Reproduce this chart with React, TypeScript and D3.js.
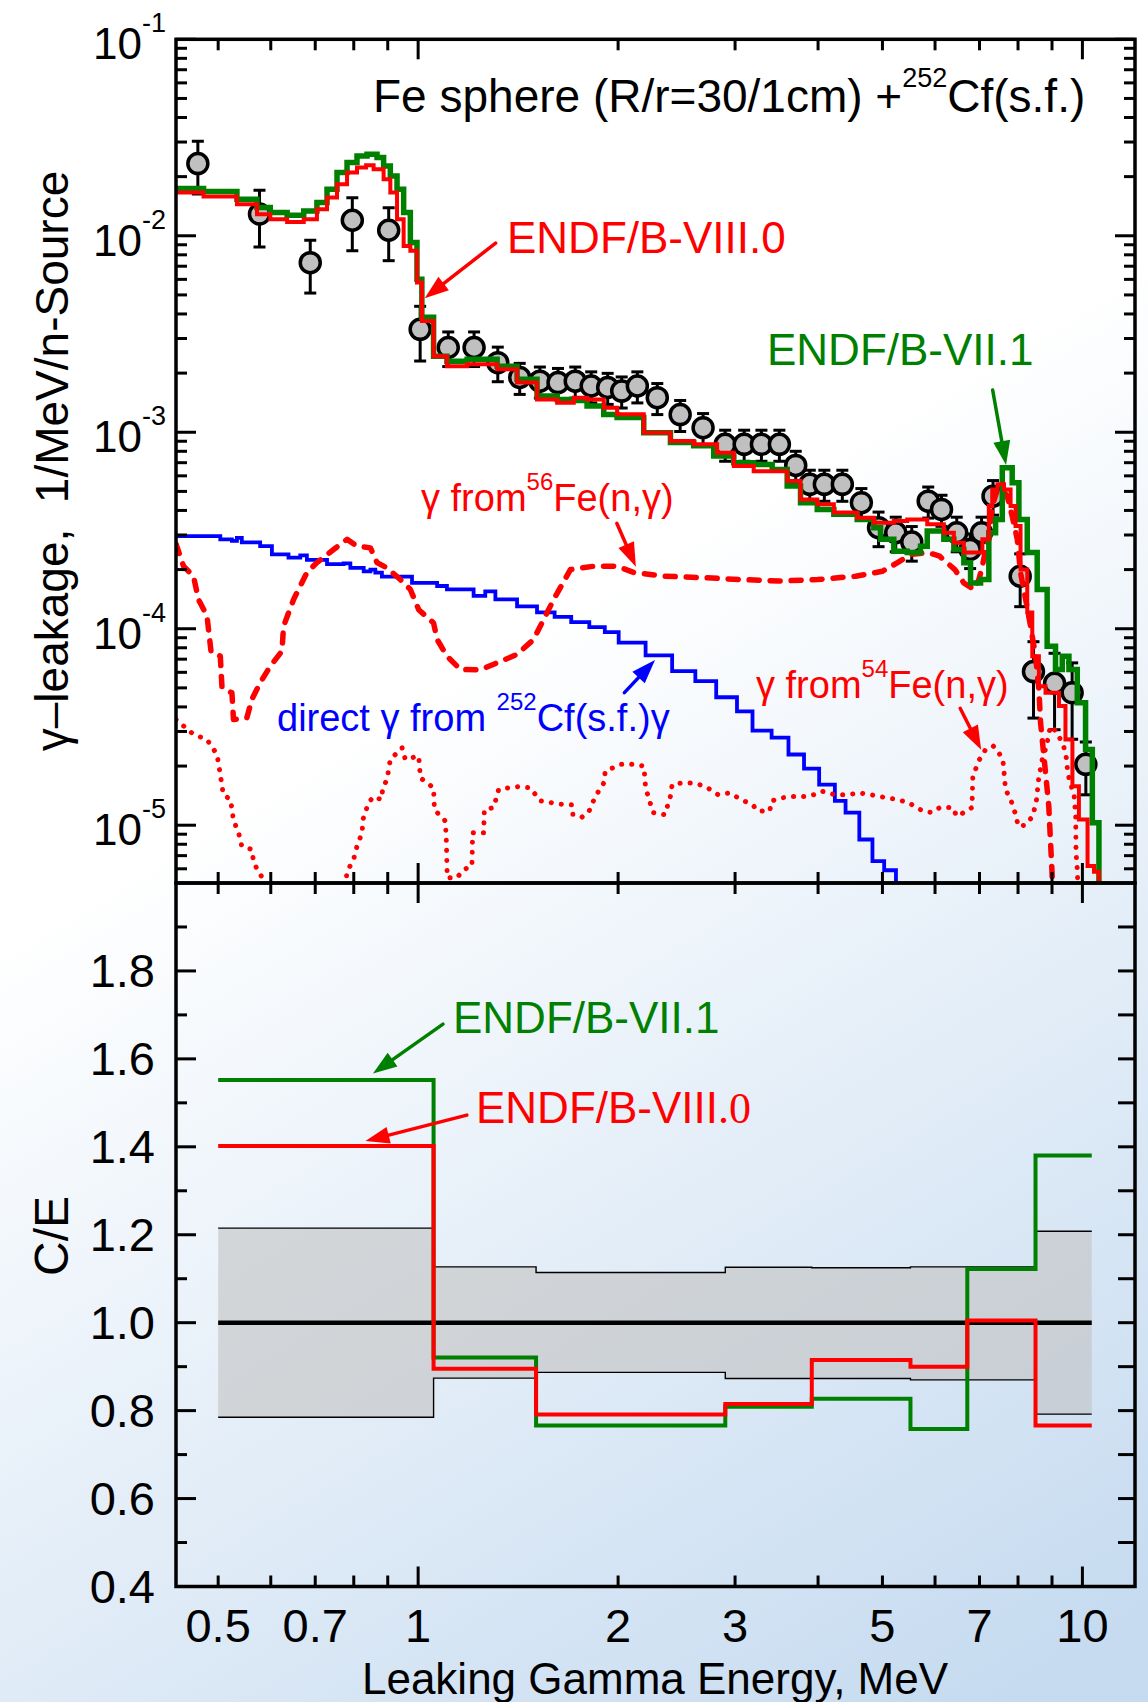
import React from "react";
import * as d3 from "d3";

const W = 1148;
const H = 1702;
const FONT = "'Liberation Sans', Arial, Helvetica, sans-serif";
const SERIF = "'Liberation Serif', 'Times New Roman', serif";
const RED = "#ff0000";
const GREEN = "#008000";
const BLUE = "#0000ff";

// ---------------- data ----------------
// experiment: [energy MeV, leakage, relative error]
const expData: [number, number, number][] = [
  [0.466, 0.0233, 0.3], [0.577, 0.0129, 0.32], [0.688, 0.0073, 0.3], [0.796, 0.012, 0.3],
  [0.903, 0.01067, 0.3], [1.007, 0.00334, 0.31], [1.11, 0.0027, 0.2], [1.214, 0.0027, 0.2],
  [1.318, 0.00226, 0.2], [1.422, 0.0019, 0.18], [1.525, 0.00182, 0.18], [1.624, 0.00179, 0.18],
  [1.724, 0.00182, 0.18], [1.822, 0.00172, 0.18], [1.929, 0.00169, 0.18], [2.025, 0.00162, 0.18],
  [2.138, 0.00172, 0.18], [2.291, 0.0015, 0.18], [2.48, 0.00123, 0.18], [2.685, 0.001055, 0.18],
  [2.899, 0.000868, 0.18], [3.096, 0.000868, 0.18], [3.287, 0.000868, 0.18], [3.498, 0.000868, 0.18],
  [3.702, 0.000678, 0.18], [3.887, 0.000543, 0.18], [4.088, 0.000543, 0.18], [4.351, 0.000543, 0.18],
  [4.648, 0.000438, 0.18], [4.933, 0.000327, 0.2], [5.236, 0.000308, 0.2], [5.535, 0.000276, 0.2],
  [5.86, 0.000446, 0.18], [6.136, 0.000405, 0.18], [6.469, 0.000308, 0.2], [6.776, 0.000253, 0.2],
  [7.05, 0.000308, 0.2], [7.336, 0.000473, 0.2], [8.06, 0.000185, 0.3], [8.44, 0.0000605, 0.42],
  [9.08, 0.0000528, 0.42], [9.65, 0.0000472, 0.42], [10.12, 0.0000204, 0.3],
];

// ENDF/B-VII.1 histogram: [bin start energy, leakage]
const endf71: [number, number][] = [
  [0.432, 0.0174], [0.4753, 0.0168], [0.5336, 0.01534], [0.572, 0.01392], [0.599, 0.01312],
  [0.635, 0.01272], [0.6726, 0.01337], [0.7041, 0.01476], [0.7292, 0.01725], [0.7549, 0.021],
  [0.7816, 0.0236], [0.809, 0.02548], [0.8376, 0.026], [0.8672, 0.025], [0.8872, 0.02266],
  [0.9081, 0.02016], [0.9295, 0.01725], [0.951, 0.01312], [0.9734, 0.00923], [0.996, 0.006],
  [1.013, 0.00385], [1.055, 0.00244], [1.105, 0.0023], [1.185, 0.00235], [1.315, 0.00217],
  [1.409, 0.00186], [1.51, 0.00153], [1.619, 0.00147], [1.715, 0.00145], [1.796, 0.00136],
  [1.903, 0.00123], [1.993, 0.00119], [2.186, 0.000995], [2.398, 0.000886], [2.6, 0.000854],
  [2.786, 0.000756], [2.987, 0.0007], [3.2, 0.000686], [3.412, 0.000647], [3.594, 0.000532],
  [3.764, 0.000438], [3.989, 0.000405], [4.225, 0.000382], [4.581, 0.00036], [4.853, 0.000327],
  [4.967, 0.000285], [5.201, 0.000248], [5.449, 0.000244], [5.705, 0.000263], [5.84, 0.000314],
  [6.186, 0.000285], [6.405, 0.000253], [6.63, 0.000217], [6.786, 0.000171], [7.026, 0.000178],
  [7.23, 0.000308], [7.401, 0.00036], [7.575, 0.00066], [7.84, 0.000554], [8.024, 0.00036],
  [8.26, 0.000244], [8.55, 0.0001585], [8.85, 0.0000815], [9.11, 0.000062], [9.326, 0.0000725],
  [9.544, 0.000062], [9.824, 0.000042], [10.11, 0.0000243], [10.35, 0.0000103], [10.59, 1e-7],
];

// ENDF/B-VIII.0 histogram
const endf80: [number, number][] = [
  [0.432, 0.0166], [0.4753, 0.01583], [0.5336, 0.01446], [0.572, 0.01287], [0.599, 0.01213],
  [0.635, 0.01176], [0.6726, 0.01213], [0.7041, 0.01364], [0.7292, 0.01565], [0.7549, 0.0183],
  [0.7816, 0.021], [0.809, 0.02225], [0.835, 0.02286], [0.857, 0.0218], [0.8872, 0.0194],
  [0.9081, 0.0166], [0.9295, 0.01213], [0.951, 0.00887], [0.9734, 0.0084], [0.996, 0.00578],
  [1.013, 0.00368], [1.055, 0.00244], [1.105, 0.00217], [1.185, 0.00222], [1.315, 0.00209],
  [1.409, 0.00179], [1.51, 0.00147], [1.619, 0.001415], [1.715, 0.0015], [1.796, 0.00147],
  [1.903, 0.001334], [1.993, 0.001234], [2.186, 0.000995], [2.398, 0.000902], [2.6, 0.000868],
  [2.819, 0.000787], [2.987, 0.000673], [3.2, 0.000634], [3.594, 0.000564], [3.764, 0.000455],
  [3.989, 0.00043], [4.225, 0.00039], [4.581, 0.000367], [4.853, 0.000346], [5.201, 0.000353],
  [5.449, 0.00036], [5.84, 0.00034], [6.186, 0.000308], [6.405, 0.000274], [6.63, 0.000244],
  [7.07, 0.000285], [7.23, 0.000421], [7.316, 0.000512], [7.45, 0.000543], [7.62, 0.000512],
  [7.796, 0.000421], [7.932, 0.000333], [8.07, 0.0002], [8.26, 0.000121], [8.405, 0.0000725],
  [8.6, 0.000051], [8.8, 0.0000472], [9.22, 0.0000404], [9.43, 0.0000273], [9.66, 0.0000158],
  [9.88, 0.0000107], [10.18, 0.0000062], [10.41, 0.0000058], [10.59, 1e-7],
];

// direct gamma from 252Cf(s.f.) histogram
const cfDirect: [number, number][] = [
  [0.432, 2.96e-4], [0.5037, 2.85e-4], [0.5244, 2.8e-4], [0.5336, 2.9e-4], [0.5427, 2.75e-4],
  [0.5783, 2.63e-4], [0.6024, 2.39e-4], [0.638, 2.3e-4], [0.6646, 2.36e-4], [0.68, 2.24e-4],
  [0.7292, 2.13e-4], [0.7724, 2.15e-4], [0.7906, 2.04e-4], [0.828, 1.96e-4], [0.8475, 2.0e-4],
  [0.8621, 1.93e-4], [0.882, 1.84e-4], [0.979, 1.71e-4], [1.068, 1.65e-4], [1.105, 1.585e-4],
  [1.212, 1.47e-4], [1.262, 1.55e-4], [1.307, 1.41e-4], [1.409, 1.3e-4], [1.51, 1.21e-4],
  [1.605, 1.15e-4], [1.7, 1.08e-4], [1.81, 1.02e-4], [1.91, 9.6e-5], [2.004, 8.5e-5],
  [2.2, 7.31e-5], [2.412, 6.08e-5], [2.614, 5.41e-5], [2.81, 4.48e-5], [3.02, 3.8e-5],
  [3.187, 3.03e-5], [3.405, 2.79e-5], [3.61, 2.29e-5], [3.81, 1.94e-5], [4.015, 1.61e-5],
  [4.24, 1.33e-5], [4.4, 1.16e-5], [4.615, 8.46e-6], [4.83, 6.56e-6], [5.03, 5.9e-6], [5.24, 1e-7],
];

// gamma from 56Fe(n,g)
const fe56Capture: [number, number][] = [
  [0.432, 2.7e-4], [0.4434, 2.08e-4], [0.459, 1.85e-4], [0.467, 1.41e-4], [0.481, 1.16e-4],
  [0.488, 7.55e-5], [0.5037, 7.25e-5], [0.5067, 5.0e-5], [0.5244, 4.72e-5], [0.5273, 3.45e-5],
  [0.5523, 3.52e-5], [0.5619, 4.37e-5], [0.5783, 5.31e-5], [0.599, 6.45e-5], [0.6237, 7.69e-5],
  [0.6272, 1.03e-4], [0.6494, 1.41e-4], [0.68, 1.93e-4], [0.7041, 2.17e-4], [0.746, 2.53e-4],
  [0.7816, 2.85e-4], [0.809, 2.63e-4], [0.8475, 2.58e-4], [0.8672, 2.17e-4], [0.8977, 2.04e-4],
  [0.94, 1.78e-4], [0.9734, 1.585e-4], [1.002, 1.25e-4], [1.055, 1.07e-4], [1.068, 8.82e-5],
  [1.105, 7.25e-5], [1.158, 6.2e-5], [1.241, 6.18e-5], [1.315, 6.71e-5], [1.409, 7.4e-5],
  [1.492, 8.82e-5], [1.527, 1.03e-4], [1.6, 1.41e-4], [1.695, 2.0e-4], [1.838, 2.08e-4],
  [1.993, 2.08e-4], [2.116, 1.93e-4], [2.352, 1.85e-4], [2.685, 1.82e-4], [3.064, 1.78e-4],
  [3.498, 1.75e-4], [3.993, 1.78e-4], [4.556, 1.85e-4], [4.998, 1.96e-4], [5.268, 2.17e-4],
  [5.52, 2.39e-4], [5.86, 2.44e-4], [6.095, 2.34e-4], [6.427, 2.0e-4], [6.63, 1.71e-4],
  [6.865, 1.585e-4], [6.985, 1.78e-4], [7.07, 2.08e-4], [7.15, 2.53e-4], [7.23, 2.85e-4],
  [7.316, 4.21e-4], [7.45, 5.12e-4], [7.575, 5.12e-4], [7.707, 4.73e-4], [7.84, 3.74e-4],
  [7.98, 2.85e-4], [8.07, 1.93e-4], [8.214, 1.41e-4], [8.356, 1.03e-4], [8.502, 7.25e-5],
  [8.6, 4.9e-5], [8.65, 3.32e-5], [8.75, 2.25e-5], [8.8, 1.85e-5], [8.9, 1.25e-5],
  [8.95, 8.46e-6], [9.0, 5.8e-6], [9.05, 3e-6],
];

// gamma from 54Fe(n,g)
const fe54Capture: [number, number][] = [
  [0.432, 3.45e-5], [0.459, 2.9e-5], [0.481, 2.73e-5], [0.498, 2.29e-5], [0.5037, 1.81e-5],
  [0.509, 1.43e-5], [0.522, 1.35e-5], [0.527, 1.07e-5], [0.5374, 8.97e-6], [0.5427, 7.82e-6],
  [0.5619, 7.52e-6], [0.5646, 6.69e-6], [0.572, 5.95e-6], [0.585, 5.3e-6], [0.6, 4.2e-6],
  [0.7, 3.0e-6], [0.775, 4.5e-6], [0.7816, 5.8e-6], [0.7995, 6.69e-6], [0.809, 7.82e-6],
  [0.8233, 9.15e-6], [0.826, 1.07e-5], [0.842, 1.3e-5], [0.857, 1.4e-5], [0.88, 1.35e-5],
  [0.885, 1.55e-5], [0.8977, 1.71e-5], [0.9081, 2.16e-5], [0.9295, 2.34e-5], [0.9457, 2.48e-5],
  [0.9566, 2.16e-5], [1.002, 2.25e-5], [1.008, 1.74e-5], [1.055, 1.55e-5], [1.058, 1.2e-5],
  [1.099, 1.05e-5], [1.103, 8.14e-6], [1.106, 5.4e-6], [1.144, 5.4e-6], [1.171, 5.95e-6],
  [1.205, 6.18e-6], [1.208, 9.15e-6], [1.255, 9.15e-6], [1.258, 1.2e-5], [1.299, 1.23e-5],
  [1.322, 1.52e-5], [1.368, 1.55e-5], [1.417, 1.57e-5], [1.475, 1.55e-5], [1.527, 1.33e-5],
  [1.638, 1.28e-5], [1.705, 1.27e-5], [1.71, 1.13e-5], [1.765, 1.1e-5], [1.807, 1.17e-5],
  [1.848, 1.4e-5], [1.903, 1.64e-5], [1.913, 1.88e-5], [2.015, 2.04e-5], [2.1, 2.04e-5],
  [2.187, 2.0e-5], [2.2, 1.55e-5], [2.258, 1.16e-5], [2.352, 1.13e-5], [2.397, 1.4e-5],
  [2.412, 1.61e-5], [2.496, 1.64e-5], [2.597, 1.64e-5], [2.702, 1.58e-5], [2.83, 1.43e-5],
  [2.944, 1.46e-5], [3.064, 1.35e-5], [3.187, 1.27e-5], [3.25, 1.18e-5], [3.383, 1.18e-5],
  [3.405, 1.33e-5], [3.54, 1.38e-5], [3.66, 1.4e-5], [3.81, 1.4e-5], [3.94, 1.43e-5],
  [4.05, 1.49e-5], [4.24, 1.43e-5], [4.43, 1.43e-5], [4.615, 1.46e-5], [4.8, 1.43e-5],
  [5.06, 1.38e-5], [5.27, 1.35e-5], [5.48, 1.3e-5], [5.75, 1.18e-5], [5.94, 1.16e-5],
  [6.1, 1.23e-5], [6.38, 1.23e-5], [6.47, 1.11e-5], [6.63, 1.16e-5], [6.82, 1.23e-5],
  [6.84, 1.78e-5], [7.0, 2.16e-5], [7.15, 2.43e-5], [7.34, 2.53e-5], [7.43, 2.43e-5],
  [7.59, 2.16e-5], [7.63, 1.78e-5], [7.66, 1.52e-5], [7.8, 1.35e-5], [7.95, 1.11e-5],
  [8.0, 9.88e-6], [8.19, 1.0e-5], [8.42, 1.11e-5], [8.53, 1.35e-5], [8.59, 1.71e-5],
  [8.7, 2.16e-5], [8.83, 2.53e-5], [8.95, 3.19e-5], [9.14, 3.0e-5], [9.37, 2.53e-5],
  [9.47, 2.16e-5], [9.5, 1.85e-5], [9.72, 1.4e-5], [9.77, 1.11e-5], [9.78, 7.3e-6],
  [9.83, 5.8e-6], [9.86, 3e-6],
];

// C/E panel
const ceEdges = [0.5, 1.055, 1.505, 2.9, 3.914, 5.51, 6.71, 8.5, 10.33];
const ceVII1 = [1.552, 0.921, 0.766, 0.809, 0.827, 0.758, 1.122, 1.38];
const ceVIII0 = [1.402, 0.895, 0.791, 0.815, 0.915, 0.9, 1.005, 0.766];
const expUncUpper = [1.215, 1.127, 1.114, 1.126, 1.125, 1.127, 1.127, 1.208];
const expUncLower = [0.785, 0.874, 0.887, 0.873, 0.873, 0.87, 0.87, 0.792];

// ticks
const xTickLabels = [0.5, 0.7, 1, 2, 3, 5, 7, 10];
const xMajorTicks = [1, 10];
const xMinorTicks = [0.5, 0.6, 0.7, 0.8, 0.9, 2, 3, 4, 5, 6, 7, 8, 9];
const topMajorTicks = [1e-5, 1e-4, 1e-3, 1e-2, 1e-1];
const topExponents = ["-5", "-4", "-3", "-2", "-1"];
const ceMajorTicks = [0.4, 0.6, 0.8, 1.0, 1.2, 1.4, 1.6, 1.8];
const ceMinorTicks = [0.5, 0.7, 0.9, 1.1, 1.3, 1.5, 1.7, 1.9];

// annotation arrows (data coordinates)
const topArrows = [
  { from: [1.308, 0.00917], to: [1.023, 0.00481], color: RED },
  { from: [7.326, 0.00164], to: [7.674, 6.82e-4], color: GREEN },
  { from: [1.991, 3.44e-4], to: [2.127, 2.07e-4], color: RED },
  { from: [2.044, 4.73e-5], to: [2.273, 6.93e-5], color: BLUE },
  { from: [6.546, 3.94e-5], to: [7.04, 2.42e-5], color: RED },
];
const botArrows = [
  { from: [1.09, 1.679], to: [0.855, 1.567], color: GREEN },
  { from: [1.184, 1.472], to: [0.833, 1.413], color: RED },
];

// ---------------- layout ----------------
const L = 176, R = 1135, T = 39.3, M = 883, B = 1586.5;

const x = d3.scaleLog().domain([0.432, 12.0]).range([L, R]);
const yTop = d3.scaleLog().domain([5.08e-6, 0.1]).range([M, T]);
const yBot = d3.scaleLinear().domain([0.4, 2.0]).range([B, M]);

const topMinorTicks: number[] = [];
for (let d = -6; d <= -2; d++) {
  for (let k = 2; k <= 9; k++) {
    const v = k * Math.pow(10, d);
    if (v > 5.08e-6 && v < 0.1) topMinorTicks.push(v);
  }
}

function Arrow({ x1, y1, x2, y2, color }: any) {
  const dx = x2 - x1, dy = y2 - y1;
  const len = Math.hypot(dx, dy);
  const ux = dx / len, uy = dy / len;
  const hl = 24, hw = 8.5;
  const bx = x2 - ux * hl, by = y2 - uy * hl;
  const px = -uy, py = ux;
  return (
    <g>
      <line x1={x1} y1={y1} x2={bx + ux * 3} y2={by + uy * 3} stroke={color} strokeWidth={3.5} strokeLinecap="round" />
      <polygon points={`${x2},${y2} ${bx + px * hw},${by + py * hw} ${bx - px * hw},${by - py * hw}`} fill={color} />
    </g>
  );
}

export default function App() {
  const stepTop = d3.line<[number, number]>().x((d) => x(d[0])).y((d) => yTop(d[1])).curve(d3.curveStepAfter);
  const linTop = d3.line<[number, number]>().x((d) => x(d[0])).y((d) => yTop(d[1]));

  const ceSeries = (vals: number[]) => {
    const pts: [number, number][] = vals.map((v, i) => [ceEdges[i], v]);
    pts.push([ceEdges[ceEdges.length - 1], vals[vals.length - 1]]);
    return pts;
  };
  const stepBot = d3.line<[number, number]>().x((d) => x(d[0])).y((d) => yBot(d[1])).curve(d3.curveStepAfter);
  const bandData = expUncUpper.map((u, i) => ({ e: ceEdges[i], u, l: expUncLower[i] }));
  bandData.push({ e: ceEdges[ceEdges.length - 1], u: expUncUpper[expUncUpper.length - 1], l: expUncLower[expUncLower.length - 1] });
  const bandArea = d3.area<any>().x((d) => x(d.e)).y0((d) => yBot(d.l)).y1((d) => yBot(d.u)).curve(d3.curveStepAfter);

  const tickEls: any[] = [];
  const TW = 3;
  const maj = 20, mnr = 11;
  const xAll = [...xMajorTicks.map((v) => [v, maj]), ...xMinorTicks.map((v) => [v, mnr])];
  xAll.forEach(([v, len], i) => {
    const px = x(v);
    tickEls.push(<line key={`xt1${i}`} x1={px} x2={px} y1={T} y2={T + len} />);
    tickEls.push(<line key={`xt2${i}`} x1={px} x2={px} y1={M} y2={M - len} />);
    tickEls.push(<line key={`xt3${i}`} x1={px} x2={px} y1={M} y2={M + len} />);
    tickEls.push(<line key={`xt4${i}`} x1={px} x2={px} y1={B} y2={B - len} />);
  });
  const yTopAll = [...topMajorTicks.map((v) => [v, maj]), ...topMinorTicks.map((v) => [v, mnr])];
  yTopAll.forEach(([v, len], i) => {
    const py = yTop(v);
    tickEls.push(<line key={`yt1${i}`} x1={L} x2={L + len} y1={py} y2={py} />);
    tickEls.push(<line key={`yt2${i}`} x1={R} x2={R - len} y1={py} y2={py} />);
  });
  const yBotAll = [...ceMajorTicks.map((v) => [v, maj]), ...ceMinorTicks.map((v) => [v, mnr])];
  yBotAll.forEach(([v, len], i) => {
    const py = yBot(v);
    tickEls.push(<line key={`yb1${i}`} x1={L} x2={L + len} y1={py} y2={py} />);
    tickEls.push(<line key={`yb2${i}`} x1={R} x2={R - 17} y1={py} y2={py} />);
  });

  return (
    <div style={{ position: "absolute", left: 0, top: 0, width: W, height: H }}>
      <svg width={W} height={H} viewBox={`0 0 ${W} ${H}`} style={{ display: "block", fontFamily: FONT }}>
        <defs>
          <linearGradient id="bg" gradientUnits="userSpaceOnUse" x1={400} y1={700} x2={1000} y2={1700}>
            <stop offset="0" stopColor="#ffffff" />
            <stop offset="1" stopColor="#c6dbf0" />
          </linearGradient>
          <clipPath id="clipTop">
            <rect x={L} y={T} width={R - L} height={M - T} />
          </clipPath>
          <clipPath id="clipBot">
            <rect x={L} y={M} width={R - L} height={B - M} />
          </clipPath>
        </defs>
        <rect x={0} y={0} width={W} height={H} fill="url(#bg)" />

        {/* ---------- top panel ---------- */}
        <g clipPath="url(#clipTop)">
          <g stroke="#000" strokeWidth={3}>
            {expData.map(([e, v, er], i) => {
              const px = x(e);
              const y1 = yTop(v * (1 + er));
              const y2 = yTop(v * (1 - er));
              return (
                <g key={`eb${i}`}>
                  <line x1={px} x2={px} y1={y1} y2={y2} />
                  <line x1={px - 6} x2={px + 6} y1={y1} y2={y1} />
                  <line x1={px - 6} x2={px + 6} y1={y2} y2={y2} />
                </g>
              );
            })}
          </g>
          {expData.map(([e, v], i) => (
            <circle key={`pt${i}`} cx={x(e)} cy={yTop(v)} r={10} fill="#c0c0c0" stroke="#000" strokeWidth={3.5} />
          ))}
          <path d={stepTop(cfDirect) || ""} fill="none" stroke={BLUE} strokeWidth={3.8} />
          <path d={linTop(fe54Capture) || ""} fill="none" stroke={RED} strokeWidth={5} strokeDasharray="0.1 10" strokeLinecap="round" strokeLinejoin="round" />
          <path d={linTop(fe56Capture) || ""} fill="none" stroke={RED} strokeWidth={5.5} strokeDasharray="10 11" strokeLinecap="round" strokeLinejoin="round" />
          <path d={stepTop(endf71) || ""} fill="none" stroke={GREEN} strokeWidth={5.5} />
          <path d={stepTop(endf80) || ""} fill="none" stroke={RED} strokeWidth={4} />
        </g>

        {topArrows.map((a, i) => (
          <Arrow key={`ta${i}`} x1={x(a.from[0])} y1={yTop(a.from[1])} x2={x(a.to[0])} y2={yTop(a.to[1])} color={a.color} />
        ))}

        <text x={373} y={112} fontSize={46} fill="#000">
          Fe sphere (R/r=30/1cm) +<tspan dy={-25} fontSize={27}>252</tspan>
          <tspan dy={25}>Cf(s.f.)</tspan>
        </text>
        <text x={507} y={253} fontSize={44} fill={RED}>ENDF/B-VIII.0</text>
        <text x={767} y={365} fontSize={44} fill={GREEN}>ENDF/B-VII.1</text>
        <text x={421} y={511} fontSize={38} fill={RED}>
          γ from<tspan dy={-21} fontSize={24}>56</tspan>
          <tspan dy={21}>Fe(n,γ)</tspan>
        </text>
        <text x={277} y={731} fontSize={38} fill={BLUE}>
          direct γ from <tspan dy={-21} fontSize={24}>252</tspan>
          <tspan dy={21}>Cf(s.f.)γ</tspan>
        </text>
        <text x={756} y={698} fontSize={38} fill={RED}>
          γ from<tspan dy={-21} fontSize={24}>54</tspan>
          <tspan dy={21}>Fe(n,γ)</tspan>
        </text>

        {/* ---------- bottom panel ---------- */}
        <g clipPath="url(#clipBot)">
          <path d={bandArea(bandData) || ""} fill="#c4c4c4" fillOpacity={0.62} stroke="none" />
          <path d={stepBot(bandData.map((d) => [d.e, d.u] as [number, number])) || ""} fill="none" stroke="#000" strokeWidth={1.4} />
          <path d={stepBot(bandData.map((d) => [d.e, d.l] as [number, number])) || ""} fill="none" stroke="#000" strokeWidth={1.4} />
          <line x1={x(ceEdges[0])} x2={x(ceEdges[ceEdges.length - 1])} y1={yBot(1)} y2={yBot(1)} stroke="#000" strokeWidth={4.5} />
          <path d={stepBot(ceSeries(ceVII1)) || ""} fill="none" stroke={GREEN} strokeWidth={4} />
          <path d={stepBot(ceSeries(ceVIII0)) || ""} fill="none" stroke={RED} strokeWidth={4} />
        </g>
        {botArrows.map((a, i) => (
          <Arrow key={`ba${i}`} x1={x(a.from[0])} y1={yBot(a.from[1])} x2={x(a.to[0])} y2={yBot(a.to[1])} color={a.color} />
        ))}
        <text x={453} y={1033} fontSize={44} fill={GREEN}>ENDF/B-VII.1</text>
        <text x={476} y={1123} fontSize={44} fill={RED}>
          ENDF/B-VIII<tspan fontFamily={SERIF}>.0</tspan>
        </text>

        {/* ---------- axes ---------- */}
        <g stroke="#000" strokeWidth={TW}>{tickEls}</g>
        <rect x={L} y={T} width={R - L} height={M - T} fill="none" stroke="#000" strokeWidth={3.5} />
        <rect x={L} y={M} width={R - L} height={B - M} fill="none" stroke="#000" strokeWidth={3.5} />

        {topMajorTicks.map((v, i) => (
          <text key={`tl${i}`} x={166} y={yTop(v) + 20} fontSize={44} textAnchor="end" fill="#000">
            10<tspan dy={-27} fontSize={27}>{topExponents[i]}</tspan>
          </text>
        ))}
        {ceMajorTicks.map((v, i) => (
          <text key={`bl${i}`} x={155} y={yBot(v) + 16} fontSize={47} textAnchor="end" fill="#000">
            {v.toFixed(1)}
          </text>
        ))}
        {xTickLabels.map((v, i) => (
          <text key={`xl${i}`} x={x(v)} y={1642} fontSize={47} textAnchor="middle" fill="#000">
            {String(v)}
          </text>
        ))}
        <text x={655} y={1694} fontSize={44} textAnchor="middle" fill="#000">Leaking Gamma Energy, MeV</text>
        <text transform={`translate(68,461) rotate(-90)`} fontSize={46} textAnchor="middle" fill="#000" style={{ whiteSpace: "pre" }}>
          {"γ–leakage,  1/MeV/n-Source"}
        </text>
        <text transform={`translate(68,1236) rotate(-90)`} fontSize={48} textAnchor="middle" fill="#000">C/E</text>
      </svg>
    </div>
  );
}
